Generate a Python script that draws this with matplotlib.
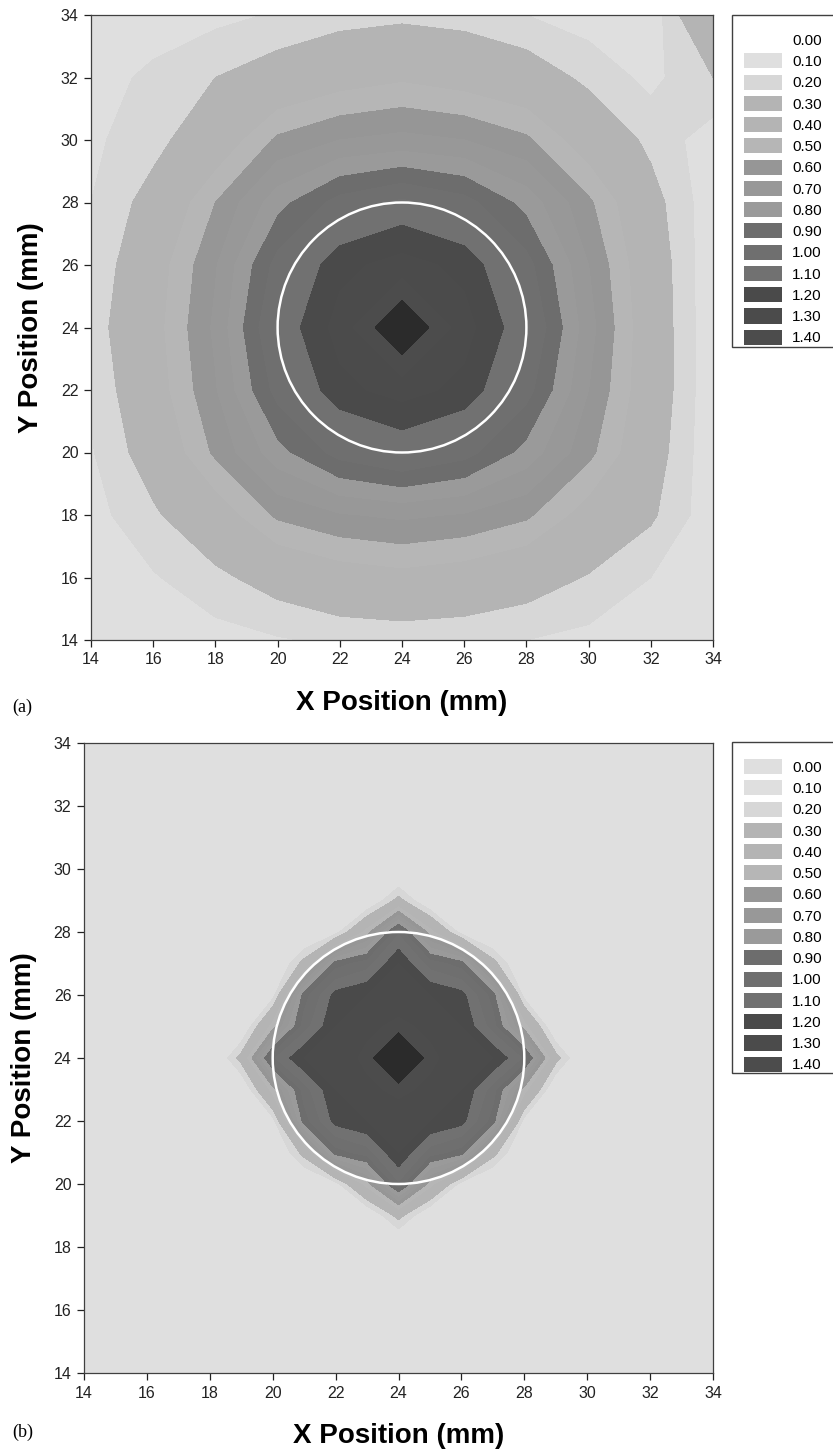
import matplotlib
matplotlib.use("Agg")
import matplotlib.pyplot as plt
import numpy as np
from matplotlib.patches import Circle, Patch, Rectangle

plt.rcParams["font.family"] = ["Liberation Sans", "DejaVu Sans"]

W, H = 833, 1449

# contour levels, one grey per band (band i = LEVELS[i]..LEVELS[i+1])
LEVELS = [0.0, 0.1, 0.2, 0.3, 0.4, 0.5, 0.6, 0.7, 0.8, 0.9, 1.0, 1.1, 1.2, 1.3, 1.4, 1.5, 2.0]
LEVEL_LABELS = ["0.00", "0.10", "0.20", "0.30", "0.40", "0.50", "0.60", "0.70",
                "0.80", "0.90", "1.00", "1.10", "1.20", "1.30", "1.40"]
BAND_COLORS = ["#dfdfdf", "#dfdfdf", "#d7d7d7", "#b4b4b4", "#b4b4b4", "#b6b6b6",
               "#969696", "#989898", "#9a9a9a", "#6d6d6d", "#6f6f6f", "#717171",
               "#4a4a4a", "#4b4b4b", "#4c4c4c", "#2b2b2b"]
LEGEND_ZERO_A = "white"
LEGEND_ZERO_B = "#dfdfdf"

# beam footprint circle (mm)
CIRCLE_CENTER = (24.0, 24.0)
CIRCLE_RADIUS = 4.0

# (a) measured map, 2 mm grid, rows from y=34 down to y=14
X_A = [14, 16, 18, 20, 22, 24, 26, 28, 30, 32, 34]
Y_A = [34, 32, 30, 28, 26, 24, 22, 20, 18, 16, 14]
Z_A = [
    [0.14, 0.15, 0.17, 0.21, 0.25, 0.27, 0.25, 0.20, 0.15, 0.13, 0.50],
    [0.16, 0.22, 0.30, 0.37, 0.44, 0.48, 0.44, 0.38, 0.27, 0.17, 0.30],
    [0.18, 0.26, 0.40, 0.62, 0.70, 0.73, 0.70, 0.62, 0.42, 0.27, 0.14],
    [0.20, 0.35, 0.60, 0.86, 1.04, 1.12, 1.04, 0.86, 0.62, 0.35, 0.13],
    [0.21, 0.43, 0.69, 1.04, 1.27, 1.34, 1.27, 1.04, 0.70, 0.39, 0.12],
    [0.24, 0.45, 0.72, 1.12, 1.34, 1.62, 1.34, 1.12, 0.74, 0.40, 0.12],
    [0.21, 0.43, 0.69, 1.04, 1.27, 1.34, 1.27, 1.04, 0.70, 0.40, 0.12],
    [0.19, 0.37, 0.62, 0.86, 1.04, 1.12, 1.04, 0.86, 0.63, 0.37, 0.12],
    [0.16, 0.28, 0.42, 0.62, 0.69, 0.72, 0.69, 0.62, 0.44, 0.32, 0.13],
    [0.14, 0.19, 0.27, 0.36, 0.43, 0.46, 0.43, 0.37, 0.29, 0.20, 0.13],
    [0.13, 0.14, 0.16, 0.19, 0.22, 0.23, 0.22, 0.20, 0.17, 0.14, 0.13],
]

# (b) modelled map, 1 mm grid; zero everywhere outside x,y = 19..29
X_B = list(range(14, 35))
Y_B = list(range(34, 13, -1))
CORE_X_B = list(range(19, 30))
CORE_Y_B = list(range(29, 18, -1))
CORE_B = [
    [0.00, 0.00, 0.00, 0.00, 0.05, 0.35, 0.05, 0.00, 0.00, 0.00, 0.00],
    [0.00, 0.00, 0.02, 0.15, 0.55, 1.08, 0.55, 0.15, 0.02, 0.00, 0.00],
    [0.00, 0.02, 0.35, 0.95, 1.05, 1.30, 1.05, 0.95, 0.35, 0.02, 0.00],
    [0.00, 0.15, 0.95, 1.24, 1.30, 1.35, 1.30, 1.24, 0.95, 0.15, 0.00],
    [0.05, 0.55, 1.05, 1.30, 1.38, 1.42, 1.38, 1.30, 1.05, 0.55, 0.05],
    [0.35, 1.08, 1.30, 1.35, 1.42, 1.82, 1.42, 1.35, 1.30, 1.08, 0.35],
    [0.05, 0.55, 1.05, 1.30, 1.38, 1.42, 1.38, 1.30, 1.05, 0.55, 0.05],
    [0.00, 0.15, 0.95, 1.24, 1.30, 1.35, 1.30, 1.24, 0.95, 0.15, 0.00],
    [0.00, 0.02, 0.35, 0.95, 1.05, 1.30, 1.05, 0.95, 0.35, 0.02, 0.00],
    [0.00, 0.00, 0.02, 0.15, 0.55, 1.08, 0.55, 0.15, 0.02, 0.00, 0.00],
    [0.00, 0.00, 0.00, 0.00, 0.05, 0.35, 0.05, 0.00, 0.00, 0.00, 0.00],
]

TICKS = [14, 16, 18, 20, 22, 24, 26, 28, 30, 32, 34]


def px_box(left, top, right, bottom):
    return [left / W, 1 - bottom / H, (right - left) / W, (bottom - top) / H]


def draw_panel(ax, x, y, z):
    ax.contourf(x, y, z, levels=LEVELS, colors=BAND_COLORS)
    ax.add_patch(Circle(CIRCLE_CENTER, CIRCLE_RADIUS, fill=False,
                        edgecolor="white", linewidth=1.8))
    ax.set_xlim(14, 34)
    ax.set_ylim(14, 34)
    ax.set_xticks(TICKS)
    ax.set_yticks(TICKS)
    ax.tick_params(direction="out", length=5, width=0.9, labelsize=11.5,
                   colors="#222222", pad=4)
    for s in ax.spines.values():
        s.set_color("#404040")
        s.set_linewidth(0.9)
    ax.set_xlabel("X Position (mm)", fontsize=20, fontweight="bold", labelpad=16)
    ax.set_ylabel("Y Position (mm)", fontsize=20, fontweight="bold", labelpad=12)


def draw_legend(fig, first_color, box_top, box_bottom, first_row):
    colors = [first_color] + BAND_COLORS[1:len(LEVEL_LABELS)]
    handles = [Patch(facecolor=c, edgecolor="none") for c in colors]
    fig.legend(handles, LEVEL_LABELS, loc="upper left",
               bbox_to_anchor=(744 / W, 1 - (first_row - 9) / H),
               bbox_transform=fig.transFigure,
               fontsize=11, handlelength=2.5, handleheight=1.15,
               handletextpad=0.65, labelspacing=0.36, borderpad=0,
               borderaxespad=0, frameon=False)
    fig.patches.append(Rectangle((732 / W, 1 - box_bottom / H), 120 / W,
                                 (box_bottom - box_top) / H,
                                 transform=fig.transFigure, figure=fig,
                                 facecolor="white", edgecolor="#404040",
                                 linewidth=1.0, zorder=-1))


fig = plt.figure(figsize=(W / 100, H / 100), dpi=100)

ax_a = fig.add_axes(px_box(91, 15, 713, 640))
draw_panel(ax_a, X_A, Y_A, np.array(Z_A))
draw_legend(fig, LEGEND_ZERO_A, 15, 347, 41)
fig.text(12 / W, 1 - 707 / H, "(a)", family="Liberation Serif", fontsize=13, va="center")

z_b = np.zeros((len(Y_B), len(X_B)))
r0 = Y_B.index(CORE_Y_B[0])
c0 = X_B.index(CORE_X_B[0])
z_b[r0:r0 + len(CORE_Y_B), c0:c0 + len(CORE_X_B)] = CORE_B

ax_b = fig.add_axes(px_box(84, 743, 713, 1373))
draw_panel(ax_b, X_B, Y_B, z_b)
draw_legend(fig, LEGEND_ZERO_B, 742, 1073, 768)
fig.text(12 / W, 1 - 1432 / H, "(b)", family="Liberation Serif", fontsize=13, va="center")

fig.savefig("out.png", dpi=100)
